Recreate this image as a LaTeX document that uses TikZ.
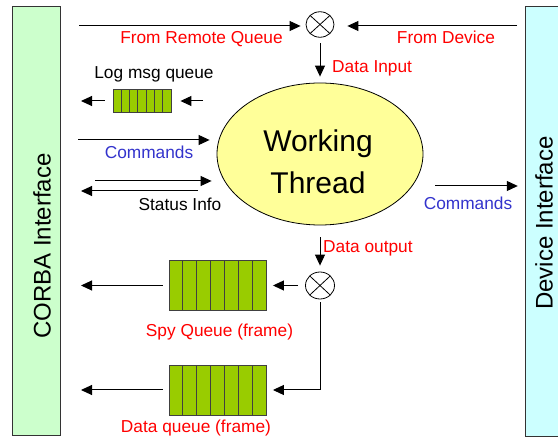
\documentclass[tikz,border=0pt]{standalone}
\usepackage{fontspec}
\setmainfont{Liberation Sans}
\usetikzlibrary{arrows.meta,calc,shapes.geometric}
\definecolor{labred}{RGB}{255,0,0}
\definecolor{labblue}{RGB}{51,51,204}
\definecolor{barleft}{RGB}{204,255,204}
\definecolor{barright}{RGB}{204,255,255}
\definecolor{threadfill}{RGB}{255,255,153}
\definecolor{queuefill}{RGB}{153,204,0}
\tikzset{
  arr/.style={draw=black, line width=1pt, -{Triangle[length=11pt,width=10pt]}},
  lab/.style={inner sep=0pt, font=\fontsize{17.3}{20}\selectfont},
  bar/.style={draw=black!80, line width=0.8pt, rectangle, inner sep=0pt},
  queue/.style={draw=black!75, line width=0.9pt, fill=queuefill, rectangle, inner sep=0pt,
    path picture={
      \foreach \i in {1,...,6}{
        \draw[black!75, line width=0.9pt]
          ($(path picture bounding box.south west)!\i/7!(path picture bounding box.south east)$) --
          ($(path picture bounding box.north west)!\i/7!(path picture bounding box.north east)$);
      }}},
  mixer/.style={ellipse, draw=black, line width=0.8pt, fill=white, inner sep=0pt,
    minimum width=28pt, minimum height=25.5pt,
    path picture={
      \draw[black, line width=0.8pt] (path picture bounding box.north west) -- (path picture bounding box.south east);
      \draw[black, line width=0.8pt] (path picture bounding box.south west) -- (path picture bounding box.north east);
    }},
  bigtext/.style={inner sep=0pt, font=\fontsize{24}{28}\selectfont, rotate=90, anchor=base},
}
\begin{document}
\begin{tikzpicture}[x=1pt,y=-1pt]
\useasboundingbox (0,0) rectangle (558,438);
% interface bars
\node[bar, fill=barleft, minimum width=48.4pt, minimum height=428.3pt] (lb) at (36.5,220.85) {};
\node[bar, fill=barright, minimum width=33.3pt, minimum height=429.3pt] (rb) at (542.35,221.35) {};
\node[bigtext] (lbt) at (50.5,246) {CORBA Interface};
\node[bigtext] (rbt) at (552.5,223) {Device Interface};
% working thread
\node[ellipse, draw=black, line width=0.8pt, fill=threadfill, minimum width=206pt, minimum height=142pt, inner sep=0pt] (wt) at (320,154) {};
\node[inner sep=0pt, align=center, font=\fontsize{30}{41.6}\selectfont] (wtt) at (318,161.7) {Working\\Thread};
% mixers
\node[mixer] (c1) at (320,24.5) {};
\node[mixer, minimum width=29pt, minimum height=27pt] (c2) at (320,285.5) {};
% queues
\node[queue, minimum width=58pt, minimum height=23.4pt] (lq) at (142,101) {};
\node[queue, minimum width=97pt, minimum height=50pt] (sq) at (217.5,285.5) {};
\node[queue, minimum width=97pt, minimum height=50pt] (dq) at (217.5,390) {};
% free ends
\coordinate (lt) at (81,0);
\coordinate (rqs) at (79,26);
\coordinate (fds) at (517,26);
\coordinate (lqs) at (203,101);
\coordinate (cms) at (78,140);
\coordinate (sis) at (95,181);
\coordinate (sie) at (198,191);
\coordinate (crs) at (435,186);
% connectors
\draw[arr, shorten >=5pt] (rqs) -- (rqs -| c1.west);
\draw[arr, shorten >=13pt] (fds) -- (fds -| c1.east);
\draw[arr, shorten <=5.5pt, shorten >=6pt] (c1.south) -- (wt.north);
\draw[arr, shorten <=8pt] (lq.west) -- (lq.west -| lt);
\draw[arr, shorten >=9pt] (lqs) -- (lq.east);
\draw[arr, shorten >=7pt] (cms) -- (cms -| wt.west);
\draw[arr, shorten >=5pt] (sis) -- (sis -| wt.west);
\draw[arr] (sie) -- (sie -| lt);
\draw[arr, shorten >=7.5pt] (crs) -- (crs -| rb.west);
\draw[arr, shorten <=12pt, shorten >=6pt] (wt.south) -- (c2.north);
\draw[arr, shorten <=7pt, shorten >=6.5pt] (c2.west) -- (sq.east);
\draw[arr, shorten <=3pt, shorten >=6.5pt] (c2.south) |- (dq.east);
\draw[arr, shorten <=6pt] (sq.west) -- (sq.west -| lt);
\draw[arr, shorten <=6pt] (dq.west) -- (dq.west -| lt);
% labels
\node[lab, text=labred, anchor=base] at (201.5,44) {From Remote Queue};
\node[lab, text=labred, anchor=base] at (446,44) {From Device};
\node[lab, text=labred, anchor=base west] at (332,73) {Data Input};
\node[lab, anchor=base] at (154,79) {Log msg queue};
\node[lab, text=labblue, anchor=base] at (149,159) {Commands};
\node[lab, anchor=base] at (180,210.5) {Status Info};
\node[lab, text=labblue, anchor=base] at (468,210) {Commands};
\node[lab, text=labred, anchor=base west] at (323,252.5) {Data output};
\node[lab, text=labred, anchor=base] at (219.5,337) {Spy Queue (frame)};
\node[lab, text=labred, anchor=base] at (196,433) {Data queue (frame)};
\end{tikzpicture}
\end{document}
